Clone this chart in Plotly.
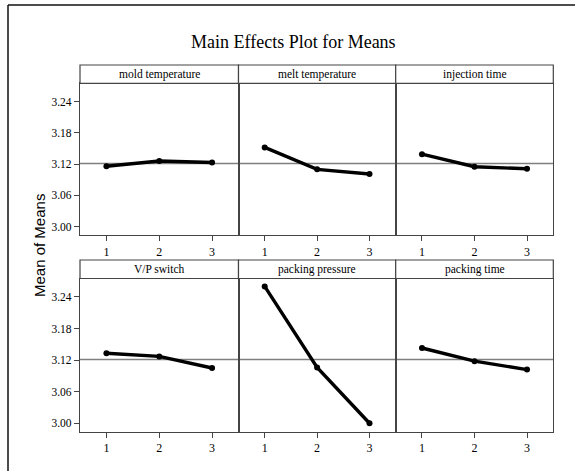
import plotly.graph_objects as go

# ---- data ----
factors = ["mold temperature", "melt temperature", "injection time",
           "V/P switch", "packing pressure", "packing time"]
levels = [1, 2, 3]
level_labels = ["1", "2", "3"]
mold_temperature = [3.116, 3.126, 3.123]
melt_temperature = [3.152, 3.110, 3.101]
injection_time = [3.139, 3.115, 3.111]
vp_switch = [3.133, 3.127, 3.105]
packing_pressure = [3.260, 3.106, 3.000]
packing_time = [3.143, 3.118, 3.102]
grand_mean = 3.121
y_ticks = [3.00, 3.06, 3.12, 3.18, 3.24]
y_tick_labels = ["3.00", "3.06", "3.12", "3.18", "3.24"]
series = [mold_temperature, melt_temperature, injection_time,
          vp_switch, packing_pressure, packing_time]

W, H = 575, 471
col_edges = [80, 238.5, 395.7, 553.3]
rows = [  # (strip_top, plot_top, plot_bottom) in pixels from top
    (65, 83.3, 235),
    (260, 278.5, 431.7),
]

SERIF = "Liberation Serif, Times New Roman, serif"
SANS = "Liberation Sans, Arial, sans-serif"

def px(xp):
    return xp / W

def py(yp):
    return 1 - yp / H

fig = go.Figure()
shapes = []
annotations = []
layout_axes = {}

for i, (name, vals) in enumerate(zip(factors, series)):
    r, c = divmod(i, 3)
    n = i + 1
    xa = "x" if n == 1 else f"x{n}"
    ya = "y" if n == 1 else f"y{n}"
    xkey = "xaxis" if n == 1 else f"xaxis{n}"
    ykey = "yaxis" if n == 1 else f"yaxis{n}"
    strip_top, plot_top, plot_bottom = rows[r]
    x0, x1 = col_edges[c], col_edges[c + 1]

    fig.add_trace(go.Scatter(
        x=levels, y=vals, xaxis=xa, yaxis=ya, mode="lines+markers",
        line=dict(color="black", width=3.4),
        marker=dict(color="black", size=6),
        showlegend=False, hoverinfo="x+y"))

    layout_axes[xkey] = dict(
        domain=[px(x0), px(x1)], anchor=ya, range=[0.5, 3.5],
        tickmode="array", tickvals=levels, ticktext=level_labels,
        ticks="outside", ticklen=5, tickcolor="#444", tickwidth=1,
        showline=True, mirror=True, linecolor="#444", linewidth=1.2,
        showgrid=False, zeroline=False,
        tickfont=dict(family=SERIF, size=12, color="black"),
        fixedrange=True)
    layout_axes[ykey] = dict(
        domain=[py(plot_bottom), py(plot_top)], anchor=xa,
        range=[2.984, 3.275],
        tickmode="array", tickvals=y_ticks, ticktext=y_tick_labels,
        ticks="outside" if c == 0 else "", ticklen=5, tickcolor="#444",
        showticklabels=(c == 0),
        showline=True, mirror=True, linecolor="#444", linewidth=1.2,
        showgrid=False, zeroline=False,
        tickfont=dict(family=SERIF, size=11.5, color="black"),
        fixedrange=True)

    # grand mean reference line
    shapes.append(dict(type="line", xref=f"{xa} domain", yref=ya,
                       x0=0, x1=1, y0=grand_mean, y1=grand_mean,
                       line=dict(color="#7f7f7f", width=1.5), layer="below"))
    # strip
    shapes.append(dict(type="rect", xref="paper", yref="paper",
                       x0=px(x0), x1=px(x1), y0=py(plot_top), y1=py(strip_top),
                       line=dict(color="#444", width=1.2), fillcolor="white"))
    annotations.append(dict(text=name, xref="paper", yref="paper",
                            x=px((x0 + x1) / 2), y=py((strip_top + plot_top) / 2),
                            showarrow=False, xanchor="center", yanchor="middle",
                            font=dict(family=SERIF, size=11.5, color="black")))

# outer frame (only top and left edges visible)
shapes.append(dict(type="line", xref="paper", yref="paper",
                   x0=px(8), x1=1, y0=py(5), y1=py(5),
                   line=dict(color="#111", width=1.5)))
shapes.append(dict(type="line", xref="paper", yref="paper",
                   x0=px(8), x1=px(8), y0=py(5), y1=0,
                   line=dict(color="#111", width=1.5)))

annotations.append(dict(text="Main Effects Plot for Means", xref="paper", yref="paper",
                        x=px(293), y=py(42), showarrow=False,
                        xanchor="center", yanchor="middle",
                        font=dict(family=SERIF, size=18, color="black")))
annotations.append(dict(text="Mean of Means", xref="paper", yref="paper",
                        x=px(39), y=py(246), showarrow=False, textangle=-90,
                        xanchor="center", yanchor="middle",
                        font=dict(family=SANS, size=15, color="black")))

fig.update_layout(
    width=W, height=H, margin=dict(l=0, r=0, t=0, b=0),
    paper_bgcolor="white", plot_bgcolor="white",
    shapes=shapes, annotations=annotations, **layout_axes)

fig.write_html("out.html", config={"displayModeBar": False},
               post_script="document.body.style.margin='0';document.body.style.overflow='hidden';")
